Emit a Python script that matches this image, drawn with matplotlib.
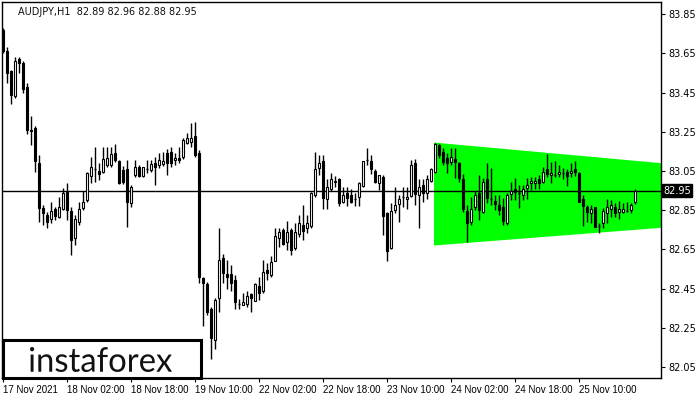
import matplotlib
matplotlib.use("Agg")
import matplotlib.pyplot as plt
from matplotlib.patches import Polygon, Rectangle, PathPatch
from matplotlib.textpath import TextPath
from matplotlib.font_manager import FontProperties
import matplotlib.transforms as mtransforms

# ---------------- data (AUDJPY H1) ----------------
opens = [
    83.77, 83.66, 83.56, 83.43, 83.62, 83.60, 83.48, 83.26, 83.27, 83.09,
    82.86, 82.825, 82.805, 82.855, 82.815, 82.855, 82.945, 82.845, 82.71, 82.79,
    82.86, 82.90, 83.025, 83.06, 83.05, 83.045, 83.08, 83.08, 83.14, 83.10,
    83.055, 83.06, 82.885, 83.03, 83.07, 83.025, 83.06, 83.055, 83.09, 83.08,
    83.085, 83.14, 83.145, 83.105, 83.115, 83.12, 83.195, 83.20, 83.23, 83.14,
    82.505, 82.475, 82.345, 82.19, 82.40, 82.605, 82.525, 82.525, 82.495, 82.37,
    82.365, 82.37, 82.42, 82.385, 82.465, 82.44, 82.545, 82.52, 82.59, 82.71,
    82.75, 82.69, 82.75, 82.655, 82.73, 82.775, 82.76, 82.77, 82.93, 83.065,
    83.10, 82.905, 82.96, 82.995, 83.01, 82.89, 82.94, 82.93, 82.905, 82.915,
    82.975, 83.105, 83.10, 83.05, 82.99, 83.02, 82.835, 82.655, 82.85, 82.88,
    82.915, 82.905, 82.92, 83.09, 82.93, 82.98, 82.94, 83.00, 83.045, 83.18,
    83.145, 83.115, 83.095, 83.11, 83.09, 83.01, 82.845, 82.79, 82.865, 82.94,
    82.84, 83.01, 82.905, 82.895, 82.875, 82.865, 82.785, 82.935, 82.96, 82.94,
    82.93, 82.965, 82.99, 82.99, 83.01, 82.995, 83.06, 83.03, 83.03, 83.035,
    83.04, 83.045, 83.04, 83.06, 83.04, 82.905, 82.865, 82.835, 82.865, 82.77,
    82.785, 82.835, 82.855, 82.865, 82.84, 82.84, 82.845, 82.85, 82.89,
]
highs = [
    83.78, 83.68, 83.565, 83.63, 83.63, 83.61, 83.50, 83.33, 83.28, 83.13,
    82.875, 82.84, 82.89, 82.865, 82.915, 82.965, 82.99, 82.865, 82.825, 82.89,
    82.95, 83.045, 83.12, 83.17, 83.09, 83.17, 83.17, 83.17, 83.19, 83.105,
    83.075, 83.105, 82.98, 83.105, 83.08, 83.07, 83.105, 83.105, 83.12, 83.14,
    83.145, 83.16, 83.17, 83.14, 83.17, 83.22, 83.245, 83.295, 83.30, 83.155,
    82.51, 82.485, 82.355, 82.40, 82.76, 82.625, 82.595, 82.57, 82.52, 82.395,
    82.43, 82.44, 82.43, 82.48, 82.51, 82.595, 82.58, 82.615, 82.76, 82.76,
    82.76, 82.795, 82.76, 82.785, 82.825, 82.875, 82.825, 82.945, 83.145, 83.13,
    83.13, 83.01, 83.04, 83.025, 83.015, 82.97, 82.97, 82.96, 82.94, 82.995,
    83.10, 83.165, 83.13, 83.06, 83.03, 83.03, 82.84, 82.885, 82.97, 82.93,
    82.97, 82.97, 83.105, 83.11, 83.01, 83.01, 83.03, 83.065, 83.195, 83.19,
    83.165, 83.14, 83.165, 83.165, 83.095, 83.035, 82.875, 82.915, 82.95, 83.03,
    83.015, 83.09, 83.065, 82.93, 82.93, 82.91, 82.94, 82.995, 83.015, 82.98,
    82.98, 83.015, 83.02, 83.02, 83.03, 83.07, 83.135, 83.095, 83.10, 83.08,
    83.065, 83.06, 83.09, 83.10, 83.045, 82.93, 82.875, 82.875, 82.865, 82.785,
    82.86, 82.905, 82.90, 82.885, 82.895, 82.885, 82.89, 82.885, 82.96,
]
lows = [
    83.65, 83.50, 83.39, 83.42, 83.55, 83.45, 83.24, 83.18, 83.045, 82.79,
    82.775, 82.76, 82.785, 82.80, 82.81, 82.85, 82.80, 82.62, 82.67, 82.775,
    82.85, 82.89, 82.99, 82.995, 83.005, 83.04, 83.07, 83.07, 83.095, 82.985,
    82.985, 82.765, 82.865, 83.02, 83.02, 83.02, 83.04, 83.045, 82.98, 83.065,
    83.075, 83.03, 83.07, 83.08, 83.09, 83.11, 83.19, 83.17, 83.12, 82.48,
    82.26, 82.315, 82.09, 82.14, 82.33, 82.48, 82.45, 82.44, 82.345, 82.345,
    82.365, 82.355, 82.33, 82.385, 82.39, 82.43, 82.495, 82.51, 82.59, 82.66,
    82.67, 82.645, 82.62, 82.645, 82.715, 82.70, 82.735, 82.76, 82.915, 83.03,
    82.855, 82.855, 82.95, 82.97, 82.87, 82.885, 82.87, 82.885, 82.87, 82.87,
    82.97, 83.08, 83.035, 82.99, 82.955, 82.725, 82.59, 82.65, 82.835, 82.79,
    82.865, 82.855, 82.915, 82.875, 82.76, 82.89, 82.905, 82.995, 83.04, 83.115,
    83.08, 83.04, 83.08, 83.015, 82.995, 82.84, 82.69, 82.775, 82.85, 82.80,
    82.835, 82.885, 82.875, 82.85, 82.825, 82.775, 82.775, 82.90, 82.90, 82.86,
    82.90, 82.905, 82.955, 82.96, 82.96, 82.99, 83.02, 82.99, 83.02, 83.02,
    83.01, 82.975, 83.02, 83.025, 82.89, 82.77, 82.79, 82.785, 82.765, 82.735,
    82.76, 82.785, 82.815, 82.815, 82.805, 82.835, 82.84, 82.835, 82.88,
]
closes = [
    83.66, 83.55, 83.44, 83.61, 83.60, 83.47, 83.26, 83.255, 83.10, 82.86,
    82.835, 82.79, 82.845, 82.82, 82.865, 82.94, 82.85, 82.70, 82.805, 82.855,
    82.89, 83.04, 83.07, 83.06, 83.035, 83.11, 83.115, 83.135, 83.105, 82.99,
    82.995, 82.89, 82.97, 83.07, 83.025, 83.07, 83.06, 83.085, 83.07, 83.105,
    83.10, 83.09, 83.09, 83.115, 83.105, 83.21, 83.22, 83.22, 83.13, 82.51,
    82.48, 82.33, 82.20, 82.39, 82.595, 82.53, 82.51, 82.48, 82.38, 82.37,
    82.38, 82.41, 82.40, 82.475, 82.43, 82.535, 82.53, 82.585, 82.72, 82.74,
    82.68, 82.74, 82.645, 82.74, 82.785, 82.745, 82.785, 82.94, 83.06, 83.09,
    82.91, 82.97, 83.01, 83.00, 82.885, 82.93, 82.91, 82.89, 82.905, 82.99,
    83.10, 83.105, 83.06, 82.995, 83.03, 82.82, 82.64, 82.845, 82.875, 82.905,
    82.915, 82.915, 83.08, 82.935, 82.97, 82.94, 83.01, 83.06, 83.19, 83.13,
    83.095, 83.09, 83.12, 83.095, 83.015, 82.855, 82.785, 82.855, 82.93, 82.85,
    82.995, 82.91, 82.905, 82.88, 82.85, 82.795, 82.93, 82.95, 82.945, 82.94,
    82.96, 82.98, 83.00, 83.00, 82.99, 83.045, 83.035, 83.04, 83.03, 83.045,
    83.04, 83.025, 83.05, 83.045, 82.89, 82.87, 82.84, 82.855, 82.765, 82.77,
    82.845, 82.865, 82.875, 82.835, 82.855, 82.855, 82.845, 82.875, 82.95,
]

# triangle pattern (bar index, upper edge, lower edge)
tri_x = [107.75, 164.5]
tri_top = [83.195, 83.09]
tri_bot = [82.67, 82.76]

current_price = 82.95
title_text = "AUDJPY,H1  82.89 82.96 82.88 82.95"
logo_text = "instaforex"

ytick_values = [82.05, 82.25, 82.45, 82.65, 82.85, 83.05, 83.25, 83.45, 83.65, 83.85]
xtick_bars = [0, 16, 32, 48, 64, 80, 96, 112, 128, 144]
xtick_labels = ["17 Nov 2021", "18 Nov 02:00", "18 Nov 18:00", "19 Nov 10:00",
                "22 Nov 02:00", "22 Nov 18:00", "23 Nov 10:00", "24 Nov 02:00",
                "24 Nov 18:00", "25 Nov 10:00"]

# ---------------- figure ----------------
W, H = 700, 400
fig = plt.figure(figsize=(W / 100, H / 100), dpi=100)
ax = fig.add_axes([2 / W, 22 / H, 659 / W, 376 / H])
ax.set_xlim(-0.25, 164.5)
ax.set_ylim(81.994, 83.912)

# triangle
tri = Polygon([(tri_x[0], tri_top[0]), (tri_x[1], tri_top[1]),
               (tri_x[1], tri_bot[1]), (tri_x[0], tri_bot[0])],
              closed=True, facecolor="#00ff00", edgecolor="none", zorder=1)
ax.add_patch(tri)

# current price line
ax.axhline(current_price, color="black", lw=1.0, zorder=2)

# candles
body_w = 0.68
for i, (o, h, l, c) in enumerate(zip(opens, highs, lows, closes)):
    hi = max(h, o, c)
    lo = min(l, o, c)
    ax.vlines(i, lo, hi, color="black", lw=1.0, zorder=3)
    if abs(c - o) < 0.003:
        ax.hlines((o + c) / 2, i - body_w / 2, i + body_w / 2, color="black",
                  lw=1.0, zorder=4)
    else:
        fc = "white" if c > o else "black"
        ax.add_patch(Rectangle((i - body_w / 2, min(o, c)), body_w, abs(c - o),
                               facecolor=fc, edgecolor="black", lw=0.8, zorder=4))

# axes styling
for s in ax.spines.values():
    s.set_color("black")
    s.set_linewidth(1.0)
ax.yaxis.tick_right()
ax.set_yticks(ytick_values)
ax.set_yticklabels([f"{v:.2f}" for v in ytick_values])
ax.set_xticks(xtick_bars)
ax.set_xticklabels(xtick_labels, ha="left")
ax.tick_params(axis="y", direction="out", length=3, width=0.8, pad=2,
               labelsize=7, labelfontfamily="DejaVu Sans")
ax.tick_params(axis="x", direction="out", length=3, width=0.8, pad=2,
               labelsize=7, labelfontfamily="Liberation Sans")

# price label on the right axis
trans = mtransforms.blended_transform_factory(ax.transAxes, ax.transData)
ax.text(1.003, current_price, f"{current_price:.2f}", transform=trans,
        ha="left", va="center", fontsize=7, color="white", zorder=10,
        bbox=dict(boxstyle="square,pad=0.15", facecolor="black", edgecolor="black"),
        clip_on=False)

# title
fig.text(18 / W, 1 - 12 / H, title_text, fontsize=7, color="#101010",
         ha="left", va="center", family="DejaVu Sans")

# logo box
logo = Rectangle((3, 22), 198, 38, transform=mtransforms.IdentityTransform(),
                 facecolor="white", edgecolor="black", lw=2.2, zorder=20)
fig.add_artist(logo)

# logo text: a narrow word mark, fitted into its box
fp = FontProperties(family=["Lato", "DejaVu Sans"], weight="normal")
tp = TextPath((0, 0), logo_text, size=100, prop=fp)
ext = tp.get_extents()
sx = 142 / ext.width
sy = 25 / ext.height
tr = (mtransforms.Affine2D().translate(-ext.x0, -ext.y0)
      .scale(sx, sy).translate(30, 400 - 372))
word = PathPatch(tr.transform_path(tp), facecolor="#111111", edgecolor="none",
                 transform=mtransforms.IdentityTransform(), zorder=21)
fig.add_artist(word)

fig.savefig("out.png", dpi=100, facecolor="white")
